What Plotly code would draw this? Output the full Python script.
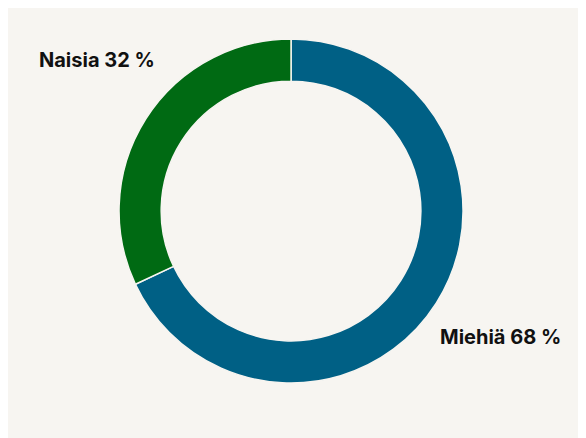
import plotly.graph_objects as go

labels = ["Miehiä", "Naisia"]
values = [68, 32]
colors = ["#006085", "#006a13"]
label_pos = [(0.841, 0.249), (0.152, 0.881)]

fig = go.Figure(go.Pie(
    labels=labels, values=values, hole=0.755, sort=False, direction="clockwise",
    rotation=0, marker=dict(colors=colors, line=dict(color="#f7f5f1", width=1.5)),
    textinfo="none", hoverinfo="label+percent",
    domain=dict(x=[0, 0.966], y=[0.1438, 0.9292]),
))
for lab, v, (x, y) in zip(labels, values, label_pos):
    fig.add_annotation(x=x, y=y, xref="paper", yref="paper", text=f"<b>{lab} {v} %</b>",
                       showarrow=False, font=dict(family="Inter", size=20, color="#111"),
                       xanchor="center", yanchor="middle")
fig.update_layout(width=586, height=438, margin=dict(l=0, r=0, t=0, b=0),
                  paper_bgcolor="#f7f5f1", plot_bgcolor="#f7f5f1", showlegend=False)
fig.write_html("out.html")
